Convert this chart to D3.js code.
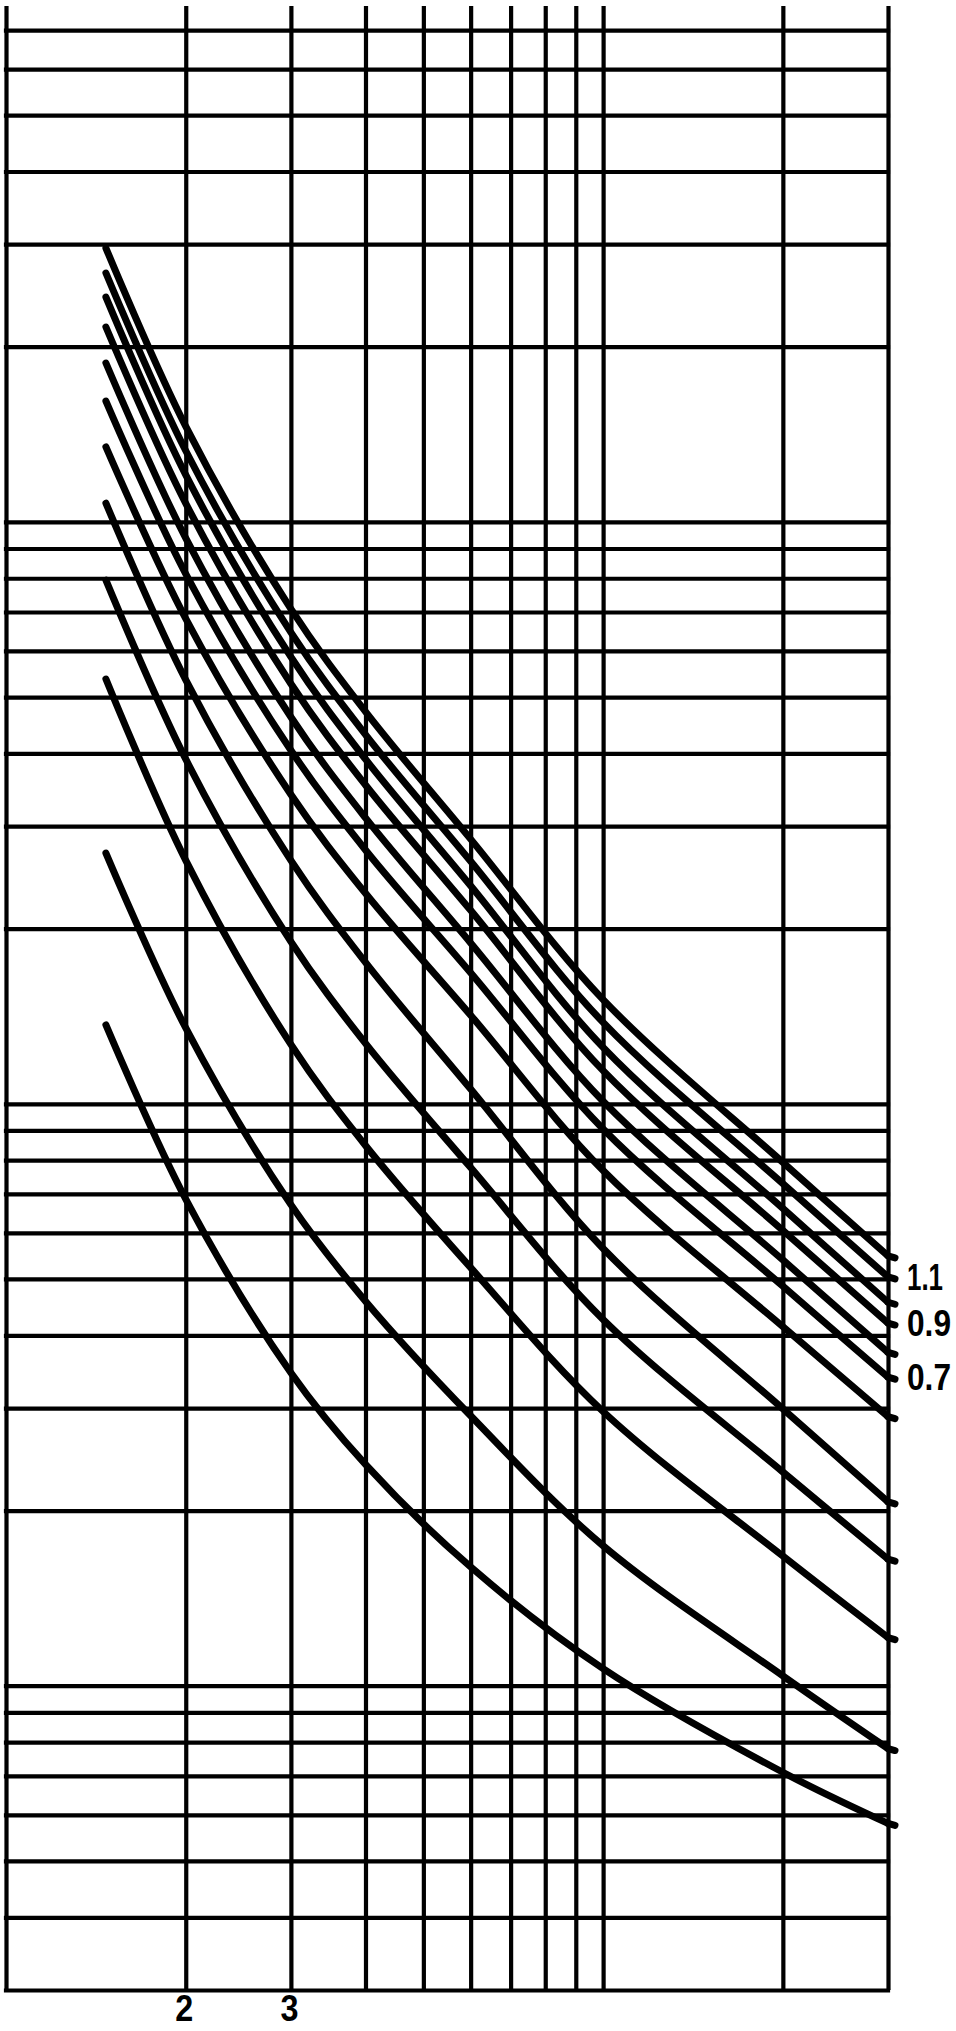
<!DOCTYPE html>
<html>
<head>
<meta charset="utf-8">
<script src="https://cdn.jsdelivr.net/npm/d3@7/dist/d3.min.js"></script>
<style>
  body { margin: 0; background: #fff; }
  svg { display: block; }
</style>
</head>
<body>
<svg id="chart" width="956" height="2031"></svg>
<script>
//----------------data--------------//
// log-log grid lines (x: 1..30, y: 0.3..700)
const xGrid = [1, 2, 3, 4, 5, 6, 7, 8, 9, 10, 20, 30];
const yGrid = [0.3, 0.4, 0.5, 0.6, 0.7, 0.8, 0.9,
               1, 2, 3, 4, 5, 6, 7, 8, 9,
               10, 20, 30, 40, 50, 60, 70, 80, 90,
               100, 200, 300, 400, 500, 600, 700];
const xTickLabels = [2, 3];

const sampleX = [1.47, 2, 3, 4, 6, 10, 20, 30];

// curve values, top curve first
const curve1  = [295.5, 145.9, 70.9, 47.2, 28.5, 15.1, 7.93, 5.48];
const curve2  = [267.7, 132.5, 64.6, 43.1, 26.1, 13.8, 7.29, 5.04];
const curve3  = [243.4, 120.4, 58.6, 39.1, 23.7, 12.5, 6.61, 4.56];
const curve4  = [216.2, 107.6, 52.7, 35.3, 21.5, 11.4, 6.06, 4.20];
const curve5  = [187.5, 93.8, 46.2, 31.0, 18.9, 10.1, 5.39, 3.74];
const curve6  = [161.3, 81.4, 40.5, 27.3, 16.8, 9.05, 4.86, 3.39];
const curve7  = [134.5, 68.2, 34.0, 23.0, 14.2, 7.68, 4.14, 2.90];
const curve8  = [107.7, 53.5, 26.2, 17.5, 10.6, 5.64, 2.99, 2.07];
const curve9  = [79.4, 39.1, 19.0, 12.7, 7.77, 4.26, 2.33, 1.65];
const curve10 = [53.7, 26.2, 12.65, 8.48, 5.23, 2.96, 1.67, 1.21];
const curve11 = [26.97, 13.5, 6.71, 4.58, 2.91, 1.74, 1.04, 0.78];
const curve12 = [13.66, 6.86, 3.45, 2.40, 1.60, 1.07, 0.71, 0.58];

const curves = [curve1, curve2, curve3, curve4, curve5, curve6,
                curve7, curve8, curve9, curve10, curve11, curve12];

// labels written at the right end of some curves
const labelTexts = ["1.1", "0.9", "0.7"];
const labelCurves = [1, 3, 5];

//----------------scales--------------//
const svg = d3.select("#chart");
const x = d3.scaleLog().domain([1, 30]).range([6, 888]);
const y = d3.scaleLog().domain([0.3, 770]).range([1990, 6]);

const gridWidth = 4.2;
const curveWidth = 7;
const fontStack = "'Liberation Sans', Arial, sans-serif";

//----------------grid (drawn with axes)--------------//
// vertical grid lines
const xAxis = d3.axisBottom(x)
  .tickValues(xGrid)
  .tickSize(-(y(0.3) - y(770)))
  .tickFormat("");
svg.append("g")
  .attr("transform", `translate(0, ${y(0.3)})`)
  .call(xAxis)
  .call(g => g.select(".domain").remove())
  .call(g => g.selectAll(".tick line")
    .attr("stroke", "#000")
    .attr("stroke-width", gridWidth));

// horizontal grid lines
const yAxis = d3.axisLeft(y)
  .tickValues(yGrid)
  .tickSize(-(x(30) - x(1)))
  .tickFormat("");
svg.append("g")
  .attr("transform", `translate(${x(1)}, 0)`)
  .call(yAxis)
  .call(g => g.select(".domain").remove())
  .call(g => g.selectAll(".tick line")
    .attr("stroke", "#000")
    .attr("stroke-width", gridWidth)
    .attr("stroke-linecap", "square"));

// x labels under the grid (narrow, like the original lettering)
const labelAxis = d3.axisBottom(x)
  .tickValues(xTickLabels)
  .tickSize(0)
  .tickPadding(0)
  .tickFormat(d3.format("d"));
svg.append("g")
  .attr("transform", `translate(0, ${y(0.3)})`)
  .call(labelAxis)
  .call(g => g.select(".domain").remove())
  .call(g => g.selectAll(".tick text")
    .attr("y", 31)
    .attr("dy", 0)
    .attr("x", -2)
    .attr("fill", "#000")
    .attr("font-family", fontStack)
    .attr("font-weight", "bold")
    .attr("font-size", 36)
    .attr("textLength", 18)
    .attr("lengthAdjust", "spacingAndGlyphs"));

//----------------curves--------------//
const line = d3.line()
  .x(d => x(d[0]))
  .y(d => y(d[1]))
  .curve(d3.curveCatmullRom.alpha(0.5));

const curveGroup = svg.append("g");
curves.forEach(values => {
  const pts = sampleX.map((sx, i) => [sx, values[i]]);
  curveGroup.append("path")
    .attr("d", line(pts))
    .attr("fill", "none")
    .attr("stroke", "#000")
    .attr("stroke-width", curveWidth)
    .attr("stroke-linecap", "round")
    .attr("stroke-linejoin", "round");

  // little hook where the curve runs into the right border
  const endV = values[values.length - 1];
  curveGroup.append("line")
    .attr("x1", x(30))
    .attr("y1", y(endV))
    .attr("x2", x(30) + 7)
    .attr("y2", y(endV) + 2)
    .attr("stroke", "#000")
    .attr("stroke-width", curveWidth)
    .attr("stroke-linecap", "round");
});

//----------------curve labels--------------//
svg.append("g")
  .selectAll("text")
  .data(labelTexts)
  .join("text")
  .attr("x", x(30) + 19)
  .attr("y", (d, i) => y(curves[labelCurves[i]][sampleX.length - 1]))
  .attr("dy", "0.36em")
  .attr("fill", "#000")
  .attr("font-family", fontStack)
  .attr("font-weight", "bold")
  .attr("font-size", 36)
  .attr("textLength", (d, i) => i === 0 ? 36 : 44)
  .attr("lengthAdjust", "spacingAndGlyphs")
  .text(d => d);
</script>
</body>
</html>
